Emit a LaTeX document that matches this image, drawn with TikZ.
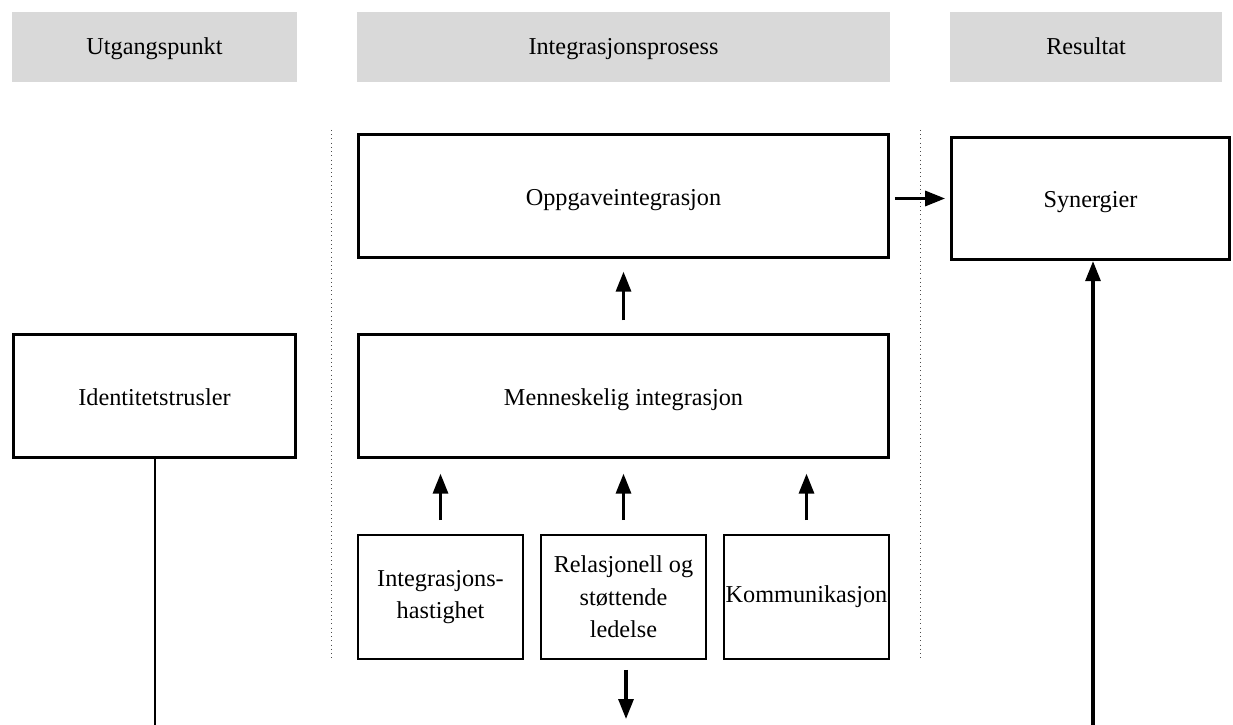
\documentclass[tikz,border=0pt]{standalone}
\usepackage{fontspec}
\setmainfont{Liberation Serif}
\usetikzlibrary{arrows.meta}
\begin{document}
\begin{tikzpicture}[every node/.style={font=\fontsize{13.8}{18.5}\selectfont},
  hdr/.style={fill=black!15,minimum height=1.4cm,inner sep=0pt,text height=2.3ex,text depth=0.4ex},
  bigbox/.style={draw,line width=1.6pt,minimum height=2.45cm,inner sep=0pt,align=center,text height=2.65ex,text depth=0.4ex},
  smallbox/.style={draw,line width=1pt,minimum width=3.3cm,minimum height=2.48cm,inner sep=0pt,align=center},
  arr/.style={line width=1.8pt,-{Triangle[length=0.4cm,width=0.3cm]}}]
\useasboundingbox (0,0) rectangle (24.66,-14.5);
% column headers
\node[hdr,minimum width=5.7cm] (h1) at (3.09,-0.94) {Utgangspunkt};
\node[hdr,minimum width=10.66cm] (h2) at (12.47,-0.94) {Integrasjonsprosess};
\node[hdr,minimum width=5.44cm] (h3) at (21.72,-0.94) {Resultat};
% dotted separators
\draw[dotted,black!70] (6.62,-2.6) -- (6.62,-13.2);
\draw[dotted,black!70] (18.4,-2.6) -- (18.4,-13.2);
% boxes
\node[bigbox,minimum width=10.6cm] (opp) at (12.47,-3.92) {Oppgaveintegrasjon};
\node[bigbox,minimum width=5.56cm] (syn) at (21.81,-3.97) {Synergier};
\node[bigbox,minimum width=10.6cm] (men) at (12.47,-7.92) {Menneskelig integrasjon};
\node[bigbox,minimum width=5.64cm] (id) at (3.09,-7.92) {Identitetstrusler};
\node[smallbox] (s1) at (8.81,-11.94) {Integrasjons-\\hastighet};
\node[smallbox] (s2) at (12.47,-11.94) {Relasjonell og\\støttende\\ledelse};
\node[smallbox] (s3) at (16.13,-11.94) {Kommunikasjon};
\coordinate (idb) at (3.1,-14.5);
\coordinate (synb) at (21.86,-14.5);
\coordinate (out) at (12.52,-14.38);
% connectors
\draw[arr,shorten <=0.1cm,shorten >=0.1cm] (opp.east |- syn) -- (syn);
\draw[arr,shorten <=0.26cm,shorten >=0.26cm] (men) -- (opp);
\draw[arr,shorten <=0.28cm,shorten >=0.3cm] (s1) -- (s1 |- men.south);
\draw[arr,shorten <=0.28cm,shorten >=0.3cm] (s2) -- (men);
\draw[arr,shorten <=0.28cm,shorten >=0.3cm] (s3) -- (s3 |- men.south);
\draw[arr,shorten <=0.2cm] (s2.south -| out) -- (out);
\draw[line width=1.6pt] (id.south -| idb) -- (idb);
\draw[arr] (synb) -- (synb |- syn.south);
\end{tikzpicture}
\end{document}
